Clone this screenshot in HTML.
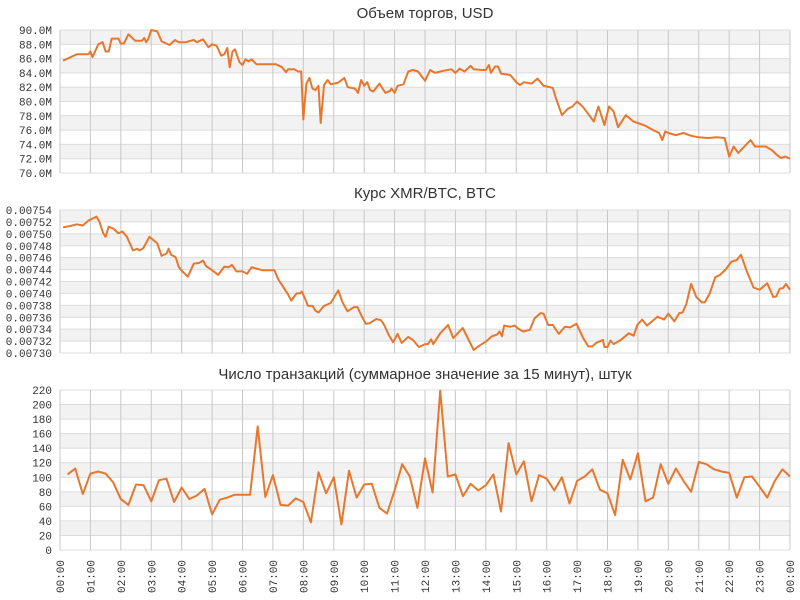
<!DOCTYPE html>
<html><head><meta charset="utf-8">
<style>
html,body{margin:0;padding:0;background:#fff;}
svg{display:block;font-family:"Liberation Mono",monospace;}
.title{font-family:"Liberation Sans","DejaVu Sans",sans-serif;font-size:15px;fill:#333;text-anchor:middle;}
.yl{font-size:11px;fill:#333;text-anchor:end;}
.xl{font-size:11px;fill:#333;}
</style></head><body>
<svg id="chart" width="800" height="600" viewBox="0 0 800 600" xmlns="http://www.w3.org/2000/svg"></svg>
<script>
// Chart 1: volume, USD (hour, millions)
const volHours = [0.1,0.55,0.93,1.0,1.07,1.26,1.4,1.5,1.6,1.7,1.92,2.0,2.1,2.25,2.47,2.7,2.77,2.83,2.9,3.0,3.2,3.34,3.6,3.78,3.9,4.13,4.4,4.5,4.7,4.88,5.0,5.15,5.3,5.4,5.5,5.58,5.67,5.75,5.9,6.0,6.1,6.2,6.3,6.46,7.1,7.3,7.43,7.5,7.7,7.83,7.93,8.0,8.1,8.2,8.3,8.4,8.5,8.57,8.68,8.8,8.9,9.13,9.35,9.46,9.7,9.8,9.9,10.0,10.1,10.2,10.3,10.5,10.7,10.85,10.9,11.0,11.1,11.29,11.45,11.6,11.77,12.0,12.17,12.33,12.6,12.87,13.0,13.14,13.3,13.5,13.6,13.87,14.0,14.1,14.17,14.3,14.4,14.5,14.8,15.0,15.12,15.25,15.5,15.7,15.9,16.2,16.3,16.5,16.7,16.85,17.0,17.2,17.55,17.7,17.9,18.05,18.2,18.35,18.6,18.85,19.0,19.25,19.5,19.7,19.8,19.9,20.0,20.25,20.5,20.75,21.0,21.3,21.6,21.85,22.0,22.15,22.3,22.7,22.85,23.2,23.4,23.55,23.7,23.85,24.0];
const volValues = [85.7,86.6,86.6,87.0,86.2,88.0,88.3,87.0,87.0,88.8,88.8,88.1,88.1,89.4,88.5,88.5,88.9,88.3,88.7,90.0,89.8,88.4,87.9,88.6,88.3,88.3,88.6,88.3,88.7,87.6,88.0,87.8,86.4,86.6,87.5,84.8,87.0,87.3,85.5,85.1,85.9,85.6,85.9,85.2,85.2,84.8,84.1,84.5,84.5,84.2,84.2,77.5,82.5,83.3,81.8,81.6,82.2,77.0,82.3,83.0,82.4,82.6,83.3,82.0,81.8,81.2,83.0,82.2,82.7,81.6,81.4,82.5,81.2,81.5,81.8,81.2,82.2,82.4,84.2,84.4,84.2,82.9,84.4,84.0,84.3,84.5,84.0,84.6,84.2,85.0,84.5,84.4,84.4,85.1,84.0,84.9,84.9,83.9,83.7,82.7,82.3,82.7,82.5,83.2,82.2,81.9,80.5,78.1,79.0,79.3,80.0,79.2,77.2,79.3,76.7,79.3,78.6,76.4,78.1,77.2,77.0,76.6,76.0,75.6,74.6,75.8,75.6,75.3,75.6,75.2,75.0,74.9,75.0,74.9,72.3,73.7,72.8,74.6,73.7,73.7,73.2,72.6,72.1,72.3,72.0];
const volTicks = ["70.0M","72.0M","74.0M","76.0M","78.0M","80.0M","82.0M","84.0M","86.0M","88.0M","90.0M"];

// Chart 2: XMR/BTC rate (values x 1e-5)
const rateHours = [0.1,0.32,0.55,0.75,0.93,1.2,1.3,1.42,1.5,1.6,1.75,1.92,2.05,2.2,2.4,2.53,2.62,2.74,2.94,3.2,3.34,3.5,3.57,3.65,3.8,3.9,4.0,4.2,4.4,4.57,4.7,4.8,5.0,5.2,5.4,5.55,5.65,5.8,6.0,6.15,6.3,6.65,7.05,7.18,7.3,7.5,7.6,7.78,7.88,7.95,8.05,8.15,8.3,8.4,8.5,8.68,8.9,9.15,9.28,9.45,9.67,9.78,9.9,10.05,10.18,10.4,10.55,10.66,10.8,10.95,11.1,11.23,11.45,11.6,11.8,12.0,12.1,12.2,12.27,12.5,12.76,12.93,13.24,13.6,13.8,14.0,14.2,14.37,14.45,14.53,14.6,14.8,14.95,15.06,15.23,15.45,15.6,15.8,15.9,16.05,16.2,16.4,16.6,16.77,16.98,17.2,17.37,17.5,17.63,17.85,17.9,18.0,18.1,18.2,18.44,18.7,18.86,18.98,19.14,19.3,19.64,19.86,20.0,20.2,20.36,20.47,20.59,20.75,20.92,21.1,21.2,21.36,21.54,21.7,21.9,22.07,22.25,22.39,22.58,22.8,23.0,23.25,23.45,23.55,23.66,23.77,23.87,24.0];
const rateValues = [751.1,751.3,751.6,751.4,752.2,752.9,752.0,750.1,749.5,751.2,750.9,750.1,750.4,749.5,747.2,747.5,747.2,747.6,749.5,748.4,746.3,746.7,747.5,746.5,746.1,744.5,743.8,742.8,745.0,745.1,745.5,744.6,743.9,743.1,744.5,744.4,744.8,743.7,743.7,743.3,744.4,743.9,743.9,742.3,741.4,739.8,738.8,740.0,740.0,740.3,739.2,737.9,737.9,737.1,736.8,737.9,738.4,740.5,738.6,737.0,737.7,737.7,736.4,734.9,735.0,735.7,735.5,734.7,733.1,731.8,733.2,731.7,732.7,732.2,731.0,731.5,731.5,732.3,731.5,733.3,734.7,732.5,734.2,730.5,731.3,731.9,732.8,733.1,733.6,732.8,734.6,734.4,734.6,734.1,733.6,733.9,735.8,736.7,736.6,734.7,734.7,733.2,734.4,734.3,734.9,732.5,731.1,731.1,731.7,732.2,731.0,731.0,732.1,731.5,732.2,733.3,732.9,734.7,735.6,734.6,736.1,735.6,736.6,735.3,736.7,736.8,738.2,741.6,739.4,738.5,738.5,740.0,742.7,743.1,744.1,745.3,745.6,746.5,743.7,741.0,740.6,741.7,739.4,739.5,740.8,740.9,741.6,740.6];
const rateTicks = ["0.00730","0.00732","0.00734","0.00736","0.00738","0.00740","0.00742","0.00744","0.00746","0.00748","0.00750","0.00752","0.00754"];

// Chart 3: transactions per 15 minutes (from 00:15 to 24:00)
const txValues = [104,112,77,105,108,105,93,70,62,90,89,67,96,98,66,86,70,75,84,49,69,72,76,76,76,170,73,103,62,61,71,66,38,107,78,100,35,109,72,90,91,58,50,82,118,101,58,126,79,219,101,104,74,91,82,89,104,53,147,104,122,67,103,98,82,100,64,95,101,111,83,78,48,124,97,133,67,72,118,91,112,95,80,121,118,111,108,106,72,100,101,87,72,95,111,101];
const txTicks = ["0","20","40","60","80","100","120","140","160","180","200","220"];
const hourLabels = ["00:00","01:00","02:00","03:00","04:00","05:00","06:00","07:00","08:00","09:00","10:00","11:00","12:00","13:00","14:00","15:00","16:00","17:00","18:00","19:00","20:00","21:00","22:00","23:00","00:00"];

const NS = "http://www.w3.org/2000/svg";
const svg = document.getElementById('chart');
const X0 = 60, X1 = 790;
function xScale(h){ return X0 + (X1 - X0) * h / 24; }
function mk(tag, attrs, parent){
  const e = document.createElementNS(NS, tag);
  for (const k in attrs) e.setAttribute(k, attrs[k]);
  (parent || svg).appendChild(e);
  return e;
}

function drawPanel(name, title, titleY, top, bottom, ticks, vmin, vmax, hours, values){
  const g = mk('g', {});
  
  
  const yScale = v => bottom - (bottom - top) * (v - vmin) / (vmax - vmin);
  const n = ticks.length - 1;
  const step = (bottom - top) / n;
  for (let i = 0; i < n; i++) {
    if (i % 2 === 1) {
      const b = mk('rect', {x:X0, y:bottom - (i+1)*step, width:X1-X0, height:step, fill:'#f2f2f2'}, g);
      
      
    }
  }
  for (let i = 0; i <= n; i++) {
    const y = bottom - i*step;
    const l = mk('line', {x1:X0, x2:X1, y1:y, y2:y, stroke:'#dcdcdc', 'stroke-width':1}, g);
    
    
    const t = mk('text', {x:52, y:y+4, class:'yl'}, g);
    t.textContent = ticks[i];
    
    
  }
  for (let h = 0; h <= 24; h++) {
    const x = xScale(h);
    const l = mk('line', {x1:x, x2:x, y1:top, y2:bottom, stroke:'#c8c8c8', 'stroke-width':1}, g);
    
    
  }
  const tt = mk('text', {x:425, y:titleY, class:'title'}, g);
  tt.textContent = title;
  
  
  let d = '';
  for (let i = 0; i < values.length; i++) d += (i ? 'L' : 'M') + xScale(hours[i]).toFixed(1) + ',' + yScale(values[i]).toFixed(1);
  const p = mk('path', {d:d, fill:'none', stroke:'#e8772e', 'stroke-width':2, 'stroke-linejoin':'round'}, g);
  
  
}

drawPanel('volume-chart', 'Объем торгов, USD', 18, 30, 173, volTicks, 70, 90, volHours, volValues);
drawPanel('rate-chart', 'Курс XMR/BTC, BTC', 198, 210, 353, rateTicks, 730, 754, rateHours, rateValues);
const txHours = txValues.map((v, i) => 0.25 * (i + 1));
drawPanel('transactions-chart', 'Число транзакций (суммарное значение за 15 минут), штук', 379, 390, 550, txTicks, 0, 220, txHours, txValues);

for (let h = 0; h < hourLabels.length; h++) {
  const x = xScale(h) + 4;
  const t = mk('text', {x:0, y:0, class:'xl', transform:'translate(' + x + ',593) rotate(-90)'});
  t.textContent = hourLabels[h];
  
  
}
</script>
</body></html>
